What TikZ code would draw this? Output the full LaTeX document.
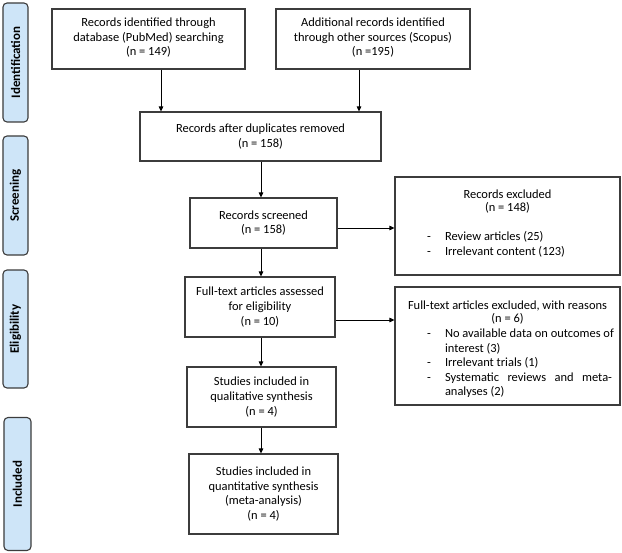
\documentclass[tikz,border=0pt]{standalone}
\usepackage{fontspec}
\setmainfont{Carlito}
\usetikzlibrary{arrows.meta}
\definecolor{sidefill}{RGB}{206,229,248}
\definecolor{edgegray}{RGB}{60,60,60}
\newcommand\xitem[1]{\par\noindent\hspace*{30bp}\makebox[18bp][l]{-}#1}
\newcommand\xcont[1]{\par\noindent\hspace*{48bp}#1}
\begin{document}
\begin{tikzpicture}[x=1bp,y=-1bp,
  box/.style={draw=edgegray,line width=1.1bp,rectangle,inner sep=2bp,align=center,
    font=\fontsize{12.5}{14.6}\selectfont,text=black},
  side/.style={draw=edgegray,line width=1.1bp,fill=sidefill,rounded corners=4bp,
    rectangle,inner sep=0pt},
  sidetext/.style={rotate=90,font=\fontsize{13}{14}\selectfont\bfseries,text=black},
  arr/.style={line width=0.9bp,-{Triangle[length=5bp,width=4.5bp]}}]
\useasboundingbox (0,0) rectangle (622,553);
% side labels
\node[side,minimum width=25bp,minimum height=119bp] (s1) at (15.5,62.5) {};
\node[sidetext] (t1) at (s1.center) {Identification};
\node[side,minimum width=25bp,minimum height=119bp] (s2) at (15.5,195.5) {};
\node[sidetext] (t2) at (s2.center) {Screening};
\node[side,minimum width=25bp,minimum height=118bp] (s3) at (15.5,329) {};
\node[sidetext] (t3) at (s3.center) {Eligibility};
\node[side,minimum width=27bp,minimum height=133bp] (s4) at (17.5,484) {};
\node[sidetext] (t4) at (s4.center) {Included};
% main boxes
\node[box,minimum width=193bp,minimum height=60bp] (b1) at (148.5,39)
  {\rule{0pt}{4bp}\\[-12bp]Records identified through\\database (PubMed) searching\\(n = 149)};
\node[box,minimum width=194bp,minimum height=60bp] (b2) at (373,39)
  {\rule{0pt}{4bp}\\[-12bp]Additional records identified\\through other sources (Scopus)\\(n =195)};
\node[box,minimum width=241bp,minimum height=49bp] (b3) at (260.5,136.5)
  {Records after duplicates removed\\(n = 158)};
\node[box,minimum width=147bp,minimum height=50bp] (b4) at (263.5,223)
  {Records screened\\(n = 158)};
\node[box,minimum width=150bp,minimum height=60bp] (b5) at (260,307)
  {Full-text articles assessed\\for eligibility\\(n = 10)};
\node[box,minimum width=149bp,minimum height=60bp] (b6) at (261.5,397)
  {Studies included in\\qualitative synthesis\\(n = 4)};
\node[box,minimum width=149bp,minimum height=80bp] (b7) at (263.5,494)
  {Studies included in\\quantitative synthesis\\(meta-analysis)\\(n = 4)};
% exclusion boxes
\node[box,minimum width=225bp,minimum height=98bp] (e1) at (507.5,226)
  {\begin{minipage}{221bp}\fontsize{12.5}{14.6}\selectfont
   \centering Records excluded\\[-1.5bp](n = 148)\par\vspace{14.6bp}
   \raggedright
   \xitem{Review articles (25)}
   \xitem{Irrelevant content (123)}
   \par\vspace{5bp}
   \end{minipage}};
\node[box,minimum width=225bp,minimum height=118bp] (e2) at (507.5,346)
  {\begin{minipage}{221bp}\fontsize{12.5}{14.6}\selectfont
   \vspace*{7bp}
   \centering Full-text articles excluded, with reasons\\[-1.5bp](n = 6)\par
   \raggedright
   \xitem{\mbox{No available data on outcomes of}}
   \xcont{interest (3)}
   \xitem{Irrelevant trials (1)}
   \xitem{\makebox[167bp][s]{Systematic reviews and meta-}}
   \xcont{analyses (2)}
   \end{minipage}};
% guide coordinates
\coordinate (ax1) at (161,0);
\coordinate (ax2) at (359,0);
\coordinate (axc) at (261,0);
\coordinate (ry1) at (0,228);
\coordinate (ry2) at (0,320);
% arrows
\draw[arr] (b1.south -| ax1) -- (b3.north -| ax1);
\draw[arr] (b2.south -| ax2) -- (b3.north -| ax2);
\draw[arr] (b3.south -| axc) -- (b4.north -| axc);
\draw[arr] (b4.south -| axc) -- (b5.north -| axc);
\draw[arr] (b5.south -| axc) -- (b6.north -| axc);
\draw[arr] (b6.south -| axc) -- (b7.north -| axc);
\draw[arr] (b4.east |- ry1) -- (e1.west |- ry1);
\draw[arr] (b5.east |- ry2) -- (e2.west |- ry2);
\end{tikzpicture}
\end{document}
